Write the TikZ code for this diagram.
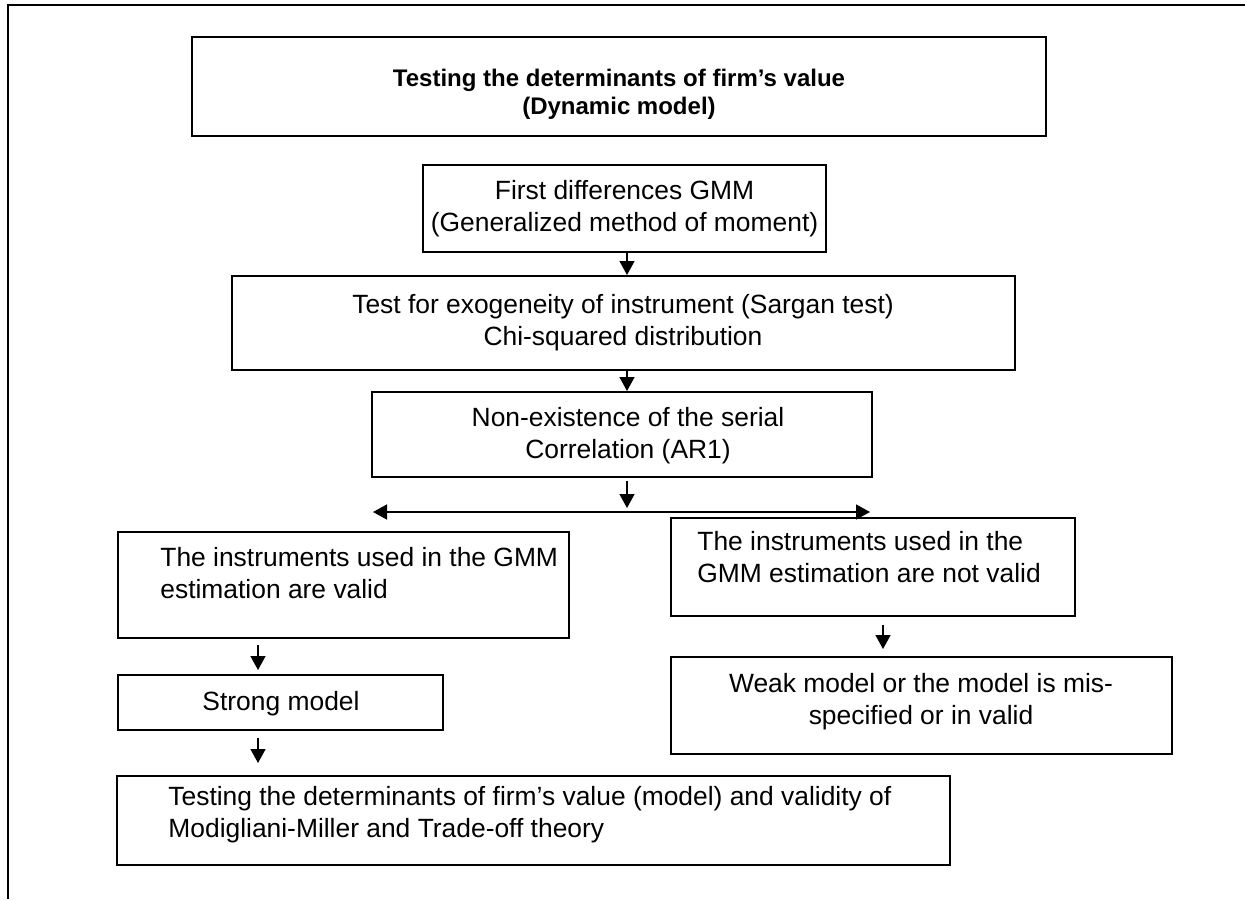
\documentclass[tikz,border=0pt]{standalone}
\usepackage{fontspec}
\setmainfont{Liberation Sans}
\usetikzlibrary{fit,arrows.meta}
\begin{document}
\begin{tikzpicture}[x=0.5pt,y=-0.5pt,
  box/.style={draw, line width=1pt, inner sep=0pt},
  txt/.style={inner sep=0pt, font=\fontsize{13.2}{16}\selectfont},
  arr/.style={line width=0.7pt, -{Triangle[length=7pt,width=7.5pt]}},
  darr/.style={line width=0.7pt, {Triangle[length=7pt,width=7.5pt]}-{Triangle[length=7pt,width=7.5pt]}}]
\useasboundingbox (0,0) rectangle (1245,899);
\draw[line width=1pt] (8,899) -- (8,5) -- (1245,5);
% boxes
\node[box, fit={(192,37) (1046,136)}] (b1) {};
\node[box, fit={(423,165) (826,252)}] (b2) {};
\node[box, fit={(232,276) (1015,370)}] (b3) {};
\node[box, fit={(372,392) (872,477)}] (b4) {};
\node[box, fit={(118,532) (569,638)}] (b5) {};
\node[box, fit={(671,518) (1075,616)}] (b6) {};
\node[box, fit={(118,675) (443,730)}] (b7) {};
\node[box, fit={(671,657) (1172,754)}] (b8) {};
\node[box, fit={(117,776) (950,865)}] (b9) {};
% texts
\node[txt, align=center, font=\fontsize{12}{14}\selectfont\bfseries] (t1) at (619,94) {Testing the determinants of firm’s value\\(Dynamic model)};
\node[txt, align=center] (t2) at (b2.center) {First differences GMM\\(Generalized method of moment)};
\node[txt, align=center, anchor=north] (t3) at (623,294) {Test for exogeneity of instrument (Sargan test)\\Chi-squared distribution};
\node[txt, align=center, anchor=north] (t4) at (628,407) {Non-existence of the serial\\Correlation (AR1)};
\node[txt, align=left, anchor=north west] (t5) at (160,547) {The instruments used in the GMM\\estimation are valid};
\node[txt, align=left, anchor=north west] (t6) at (697,531) {The instruments used in the\\GMM estimation are not valid};
\node[txt, anchor=base] (t7) at (281,710) {Strong model};
\node[txt, align=center, anchor=north] (t8) at (921,673) {Weak model or the model is mis-\\specified or in valid};
\node[txt, align=left, anchor=north west] (t9) at (168,786) {Testing the determinants of firm’s value (model) and validity of\\Modigliani-Miller and Trade-off theory};
% arrows
\coordinate (xa) at (627,0);
\coordinate (xl) at (258,0);
\coordinate (xr) at (883,0);
\coordinate (hl) at (373,512);
\coordinate (hr) at (870,512);
\draw[arr] (b2.south -| xa) -- (b3.north -| xa);
\draw[arr] (b3.south -| xa) -- (b4.north -| xa);
\draw[arr] ([yshift=-1.5pt]b4.south -| xa) -- ([yshift=2pt]hl -| xa);
\draw[darr] (hl) -- (hr);
\draw[arr] ([yshift=-3pt]b5.south -| xl) -- ([yshift=2pt]b7.north -| xl);
\draw[arr] ([yshift=-4pt]b6.south -| xr) -- ([yshift=3.5pt]b8.north -| xr);
\draw[arr] ([yshift=-3.5pt]b7.south -| xl) -- ([yshift=6pt]b9.north -| xl);
\end{tikzpicture}
\end{document}
